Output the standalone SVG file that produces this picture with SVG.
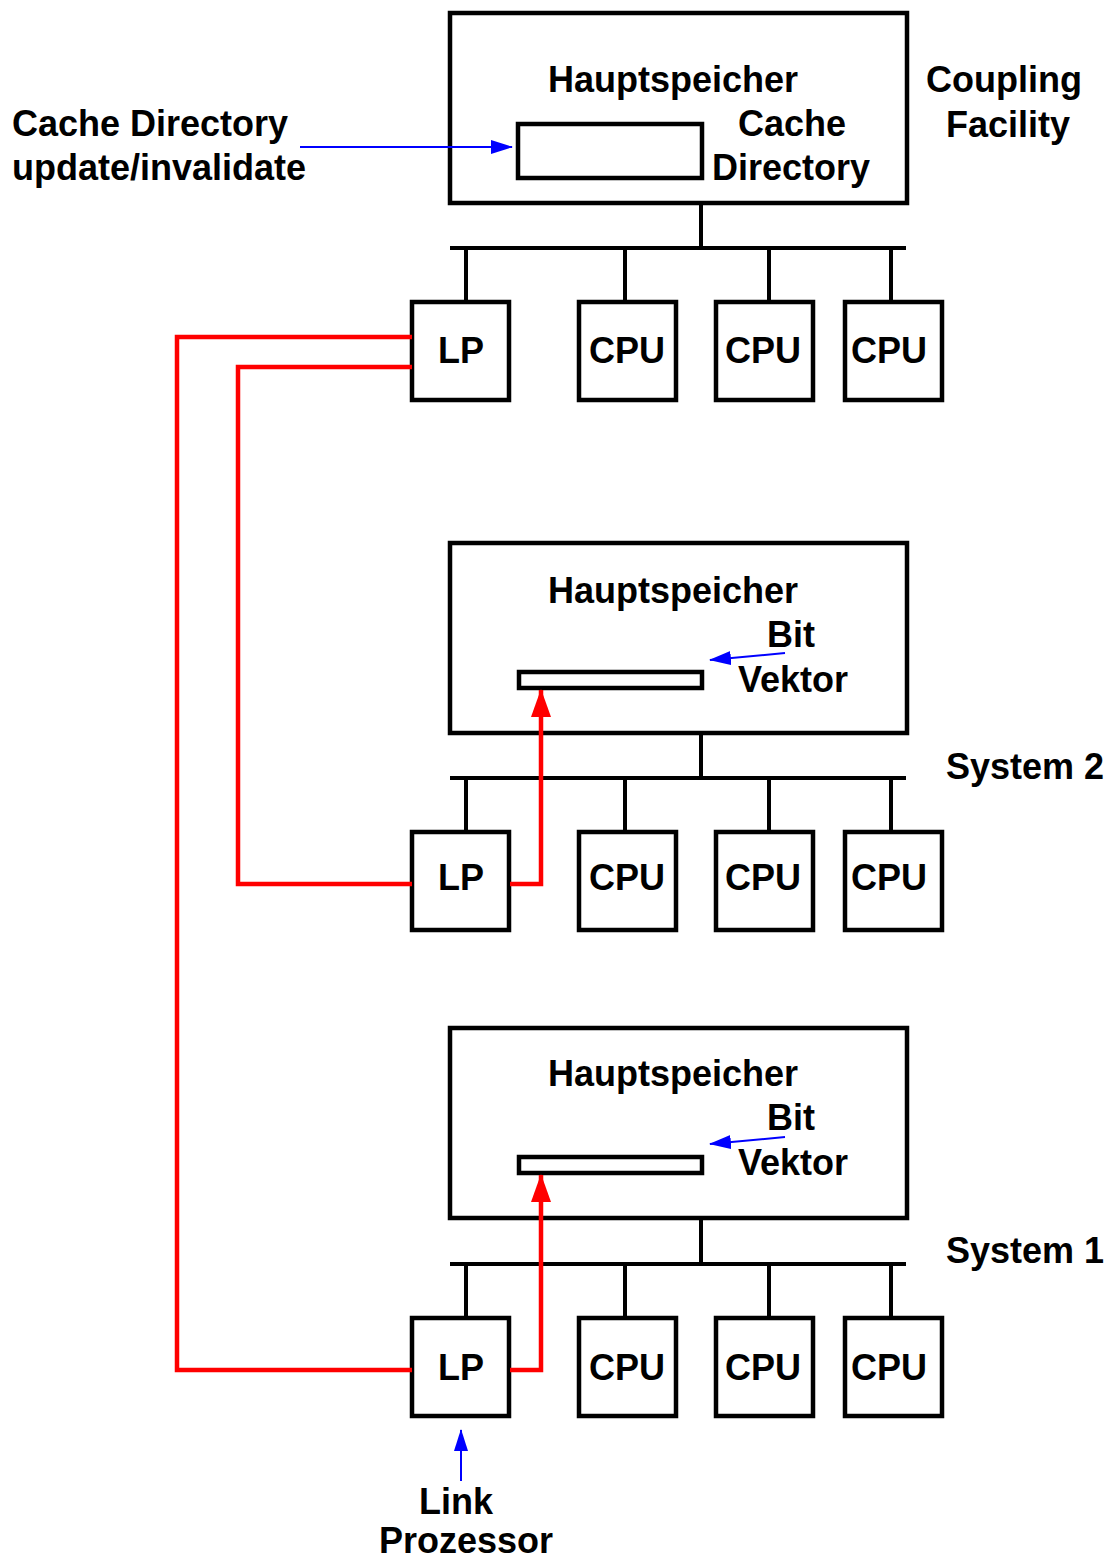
<svg xmlns="http://www.w3.org/2000/svg" width="1108" height="1560" viewBox="0 0 1108 1560">
<style>
.b{fill:none;stroke:#000;stroke-width:4.5}
.l{stroke:#000;stroke-width:4;fill:none}
.r{stroke:#f00;stroke-width:4.5;fill:none}
.u{stroke:#00f;stroke-width:2;fill:none}
text{font-family:"Liberation Sans",Arial,sans-serif;font-weight:bold;font-size:36px;fill:#000}
.m{text-anchor:middle}
</style>
<defs>
<marker id="ab" markerWidth="22" markerHeight="14" refX="21" refY="7" orient="auto" markerUnits="userSpaceOnUse"><path d="M0,0 L22,7 L0,14 Z" fill="#00f"/></marker>
<marker id="ar" markerWidth="28" markerHeight="20" refX="27" refY="10" orient="auto" markerUnits="userSpaceOnUse"><path d="M0,0 L28,10 L0,20 Z" fill="#f00"/></marker>
</defs>
<g id="cf">
<rect class="b" x="450" y="13" width="457" height="190"/>
<rect class="b" x="518" y="124" width="184" height="54"/>
<text class="m" x="673" y="92">Hauptspeicher</text>
<text class="m" x="792" y="136">Cache</text>
<text class="m" x="791" y="180">Directory</text>
<text class="m" x="1004" y="92">Coupling</text>
<text class="m" x="1008" y="137">Facility</text>
<text x="12" y="136">Cache Directory</text>
<text x="12" y="180">update/invalidate</text>
</g>
<g id="cf-bus">
<path class="l" d="M701,203V248M450,248H906M466,248V302M625,248V302M769,248V302M891,248V302"/>
<rect class="b" x="412" y="302" width="97" height="98"/>
<rect class="b" x="579" y="302" width="97" height="98"/>
<rect class="b" x="716" y="302" width="97" height="98"/>
<rect class="b" x="845" y="302" width="97" height="98"/>
<text class="m" x="461" y="363">LP</text>
<text class="m" x="627" y="363">CPU</text>
<text class="m" x="763" y="363">CPU</text>
<text class="m" x="889" y="363">CPU</text>
</g>
<g id="sys2">
<rect class="b" x="450" y="543" width="457" height="190"/>
<rect class="b" x="519" y="672" width="183" height="16"/>
<text class="m" x="673" y="603">Hauptspeicher</text>
<text class="m" x="791" y="647">Bit</text>
<text class="m" x="793" y="692">Vektor</text>
<text x="946" y="779">System 2</text>
<path class="l" d="M701,733V778M450,778H906M466,778V832M625,778V832M769,778V832M891,778V832"/>
<rect class="b" x="412" y="832" width="97" height="98"/>
<rect class="b" x="579" y="832" width="97" height="98"/>
<rect class="b" x="716" y="832" width="97" height="98"/>
<rect class="b" x="845" y="832" width="97" height="98"/>
<text class="m" x="461" y="890">LP</text>
<text class="m" x="627" y="890">CPU</text>
<text class="m" x="763" y="890">CPU</text>
<text class="m" x="889" y="890">CPU</text>
</g>
<g id="sys1">
<rect class="b" x="450" y="1028" width="457" height="190"/>
<rect class="b" x="519" y="1157" width="183" height="16"/>
<text class="m" x="673" y="1086">Hauptspeicher</text>
<text class="m" x="791" y="1130">Bit</text>
<text class="m" x="793" y="1175">Vektor</text>
<text x="946" y="1263">System 1</text>
<path class="l" d="M701,1218V1264M450,1264H906M466,1264V1318M625,1264V1318M769,1264V1318M891,1264V1318"/>
<rect class="b" x="412" y="1318" width="97" height="98"/>
<rect class="b" x="579" y="1318" width="97" height="98"/>
<rect class="b" x="716" y="1318" width="97" height="98"/>
<rect class="b" x="845" y="1318" width="97" height="98"/>
<text class="m" x="461" y="1380">LP</text>
<text class="m" x="627" y="1380">CPU</text>
<text class="m" x="763" y="1380">CPU</text>
<text class="m" x="889" y="1380">CPU</text>
<text class="m" x="456" y="1514">Link</text>
<text class="m" x="466" y="1553">Prozessor</text>
</g>
<g id="connectors">
<path class="u" d="M300,147H512" marker-end="url(#ab)"/>
<path class="u" d="M785,653L710,660" marker-end="url(#ab)"/>
<path class="u" d="M785,1137L710,1144" marker-end="url(#ab)"/>
<path class="u" d="M461,1481V1430" marker-end="url(#ab)"/>
<path class="r" d="M412,337H177V1370H412"/>
<path class="r" d="M412,367H238V884H412"/>
<path class="r" d="M510,884H541V690" marker-end="url(#ar)"/>
<path class="r" d="M510,1370H541V1175" marker-end="url(#ar)"/>
</g>
</svg>
